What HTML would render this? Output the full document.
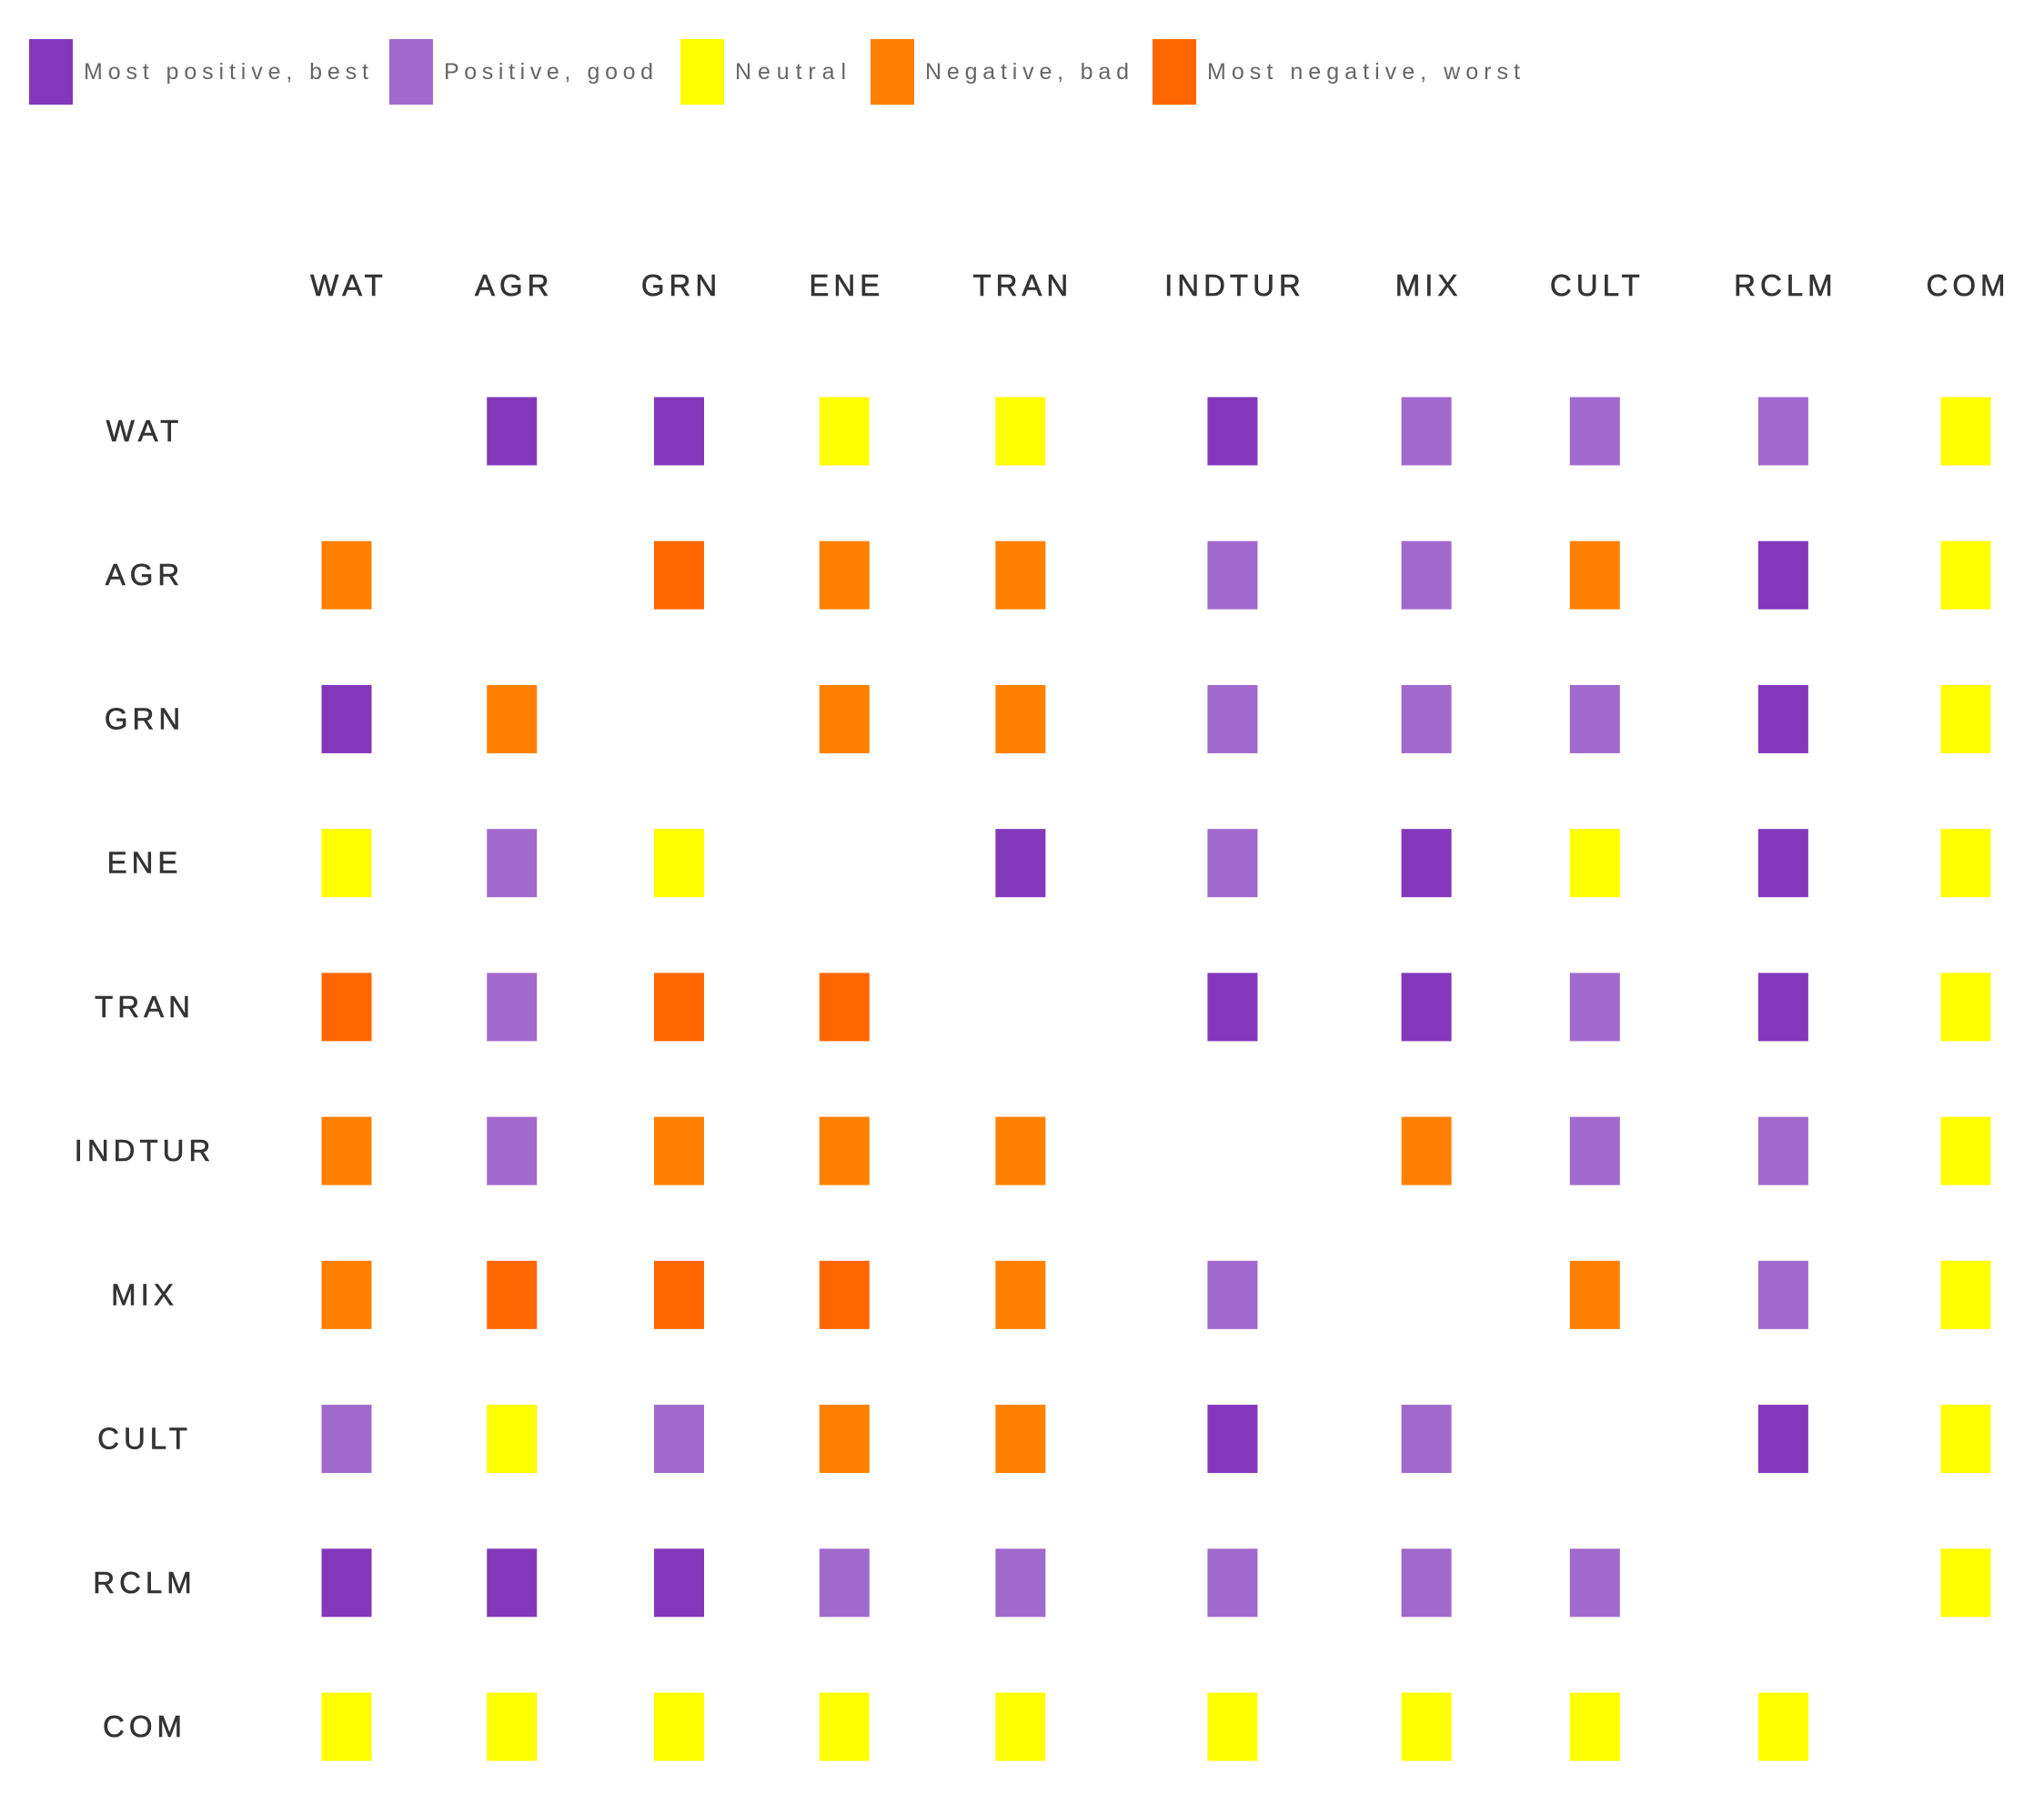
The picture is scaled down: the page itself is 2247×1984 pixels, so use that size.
<!DOCTYPE html>
<html><head><meta charset="utf-8"><style>
html,body{margin:0;padding:0;background:#fff;width:2247px;height:1984px;overflow:hidden}
svg{display:block}
text{font-family:"Liberation Sans",sans-serif}
</style></head><body>
<svg id="chart" width="2247" height="1984" viewBox="0 0 2247 1984"></svg>
<script>
const categories = ["WAT","AGR","GRN","ENE","TRAN","INDTUR","MIX","CULT","RCLM","COM"];
// 2 = most positive, 1 = positive, 0 = neutral, -1 = negative, -2 = most negative, null = none
const rowWAT    = [null, 2, 2, 0, 0, 2, 1, 1, 1, 0];
const rowAGR    = [-1, null, -2, -1, -1, 1, 1, -1, 2, 0];
const rowGRN    = [2, -1, null, -1, -1, 1, 1, 1, 2, 0];
const rowENE    = [0, 1, 0, null, 2, 1, 2, 0, 2, 0];
const rowTRAN   = [-2, 1, -2, -2, null, 2, 2, 1, 2, 0];
const rowINDTUR = [-1, 1, -1, -1, -1, null, -1, 1, 1, 0];
const rowMIX    = [-1, -2, -2, -2, -1, 1, null, -1, 1, 0];
const rowCULT   = [1, 0, 1, -1, -1, 2, 1, null, 2, 0];
const rowRCLM   = [2, 2, 2, 1, 1, 1, 1, 1, null, 0];
const rowCOM    = [0, 0, 0, 0, 0, 0, 0, 0, 0, null];
const matrix = [rowWAT,rowAGR,rowGRN,rowENE,rowTRAN,rowINDTUR,rowMIX,rowCULT,rowRCLM,rowCOM];
const legendValues = [2, 1, 0, -1, -2];
const legendLabels = ["Most positive, best","Positive, good","Neutral","Negative, bad","Most negative, worst"];

const colorOf = {"2":"#8338bb","1":"#a06acd","0":"#ffff00","-1":"#ff8000","-2":"#ff6600"};
const NS = "http://www.w3.org/2000/svg";
const svg = document.getElementById("chart");
function mk(tag, attrs){const e=document.createElementNS(NS,tag);for(const k in attrs)e.setAttribute(k,attrs[k]);svg.appendChild(e);return e;}

// legend
const legX = [32, 428, 748, 957, 1267];
const legW = [313, 230, 122, 224, 344];
legendValues.forEach((v,i)=>{
  const r = mk("rect",{x:legX[i],y:43,width:48,height:72,fill:colorOf[v]});
  
  
  const t = mk("text",{x:legX[i]+60,y:87,"font-size":25,fill:"#666","textLength":legW[i],"lengthAdjust":"spacing"});
  t.textContent = legendLabels[i];
  
  
});

// column labels & x axis from label widths
const firstX = 381, lastX = 2161;
const colLabels = categories.map(c=>{
  const t = mk("text",{y:325,"font-size":33,fill:"#333","text-anchor":"middle","letter-spacing":5,"stroke":"#333","stroke-width":0.6});
  t.textContent = c;
  
  
  return t;
});
const widths = colLabels.map(t=>t.getComputedTextLength()*1.1);
const n = categories.length;
let inner = widths[0]/2 + widths[n-1]/2;
for(let i=1;i<n-1;i++) inner += widths[i];
const gap = (lastX - firstX - inner)/(n-1);
const xs = [firstX];
for(let i=1;i<n;i++) xs.push(xs[i-1] + widths[i-1]/2 + gap + widths[i]/2);
function x(i){return xs[i];}
colLabels.forEach((t,i)=>t.setAttribute("x",x(i)+2.5));

// y axis
const y0 = 474, yStep = (1898-474)/(n-1);
function y(i){return y0 + i*yStep;}
categories.forEach((c,i)=>{
  const t = mk("text",{x:159,y:y(i)+11,"font-size":33,fill:"#333","text-anchor":"middle","letter-spacing":5,"stroke":"#333","stroke-width":0.6});
  t.textContent = c;
  
  
});

// cells
const cw = 55, ch = 75;
matrix.forEach((row,ri)=>{
  row.forEach((v,ci)=>{
    if(v===null) return;
    const r = mk("rect",{x:x(ci)-cw/2,y:y(ri)-ch/2,width:cw,height:ch,fill:colorOf[v]});
    
    
  });
});
</script>
</body></html>
